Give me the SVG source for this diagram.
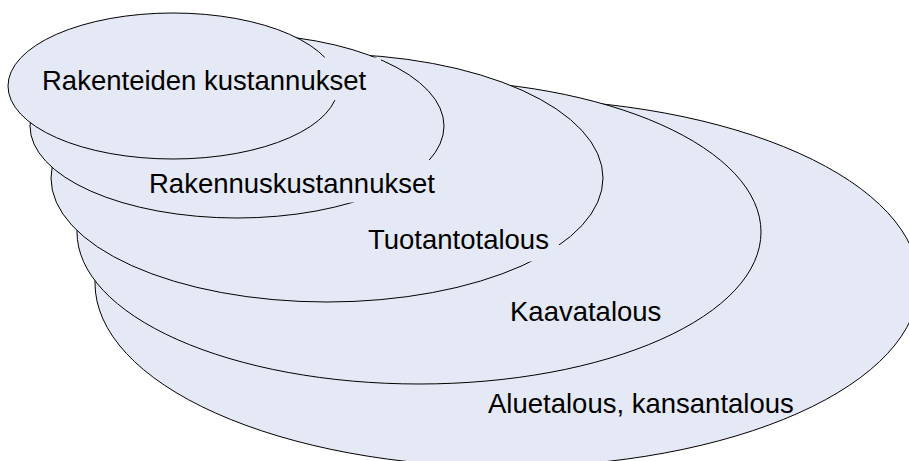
<svg xmlns="http://www.w3.org/2000/svg" width="909" height="461" viewBox="0 0 909 461">
<style>
.e{fill:#E5E9F5;stroke:#000;stroke-width:1}
.m{fill:#E5E9F5;stroke:none}
.t{font-family:"Liberation Sans",Arial,sans-serif;font-size:27.5px;fill:#000}
</style>
<rect width="909" height="461" fill="#fff"/>
<g id="aluetalous">
<ellipse class="e" cx="507" cy="283" rx="412" ry="184"/>
<text class="t" x="488" y="413">Aluetalous, kansantalous</text>
</g>
<g id="kaavatalous">
<ellipse class="e" cx="419" cy="232" rx="342" ry="152"/>
<text class="t" x="510" y="321">Kaavatalous</text>
</g>
<g id="tuotantotalous">
<ellipse class="e" cx="327" cy="178" rx="276" ry="124"/>
<rect class="m" x="360" y="245" width="202" height="16.5"/>
<text class="t" x="368" y="249">Tuotantotalous</text>
</g>
<g id="rakennuskustannukset">
<ellipse class="e" cx="237" cy="126" rx="207" ry="92"/>
<rect class="m" x="140" y="160" width="308" height="42.5"/>
<text class="t" x="149" y="193">Rakennuskustannukset</text>
</g>
<g id="rakenteiden-kustannukset">
<ellipse class="e" cx="173" cy="86" rx="165" ry="73"/>
<rect class="m" x="32" y="57.5" width="349" height="42.5"/>
<text class="t" x="42" y="90">Rakenteiden kustannukset</text>
</g>
<g id="connectors"/>
</svg>
